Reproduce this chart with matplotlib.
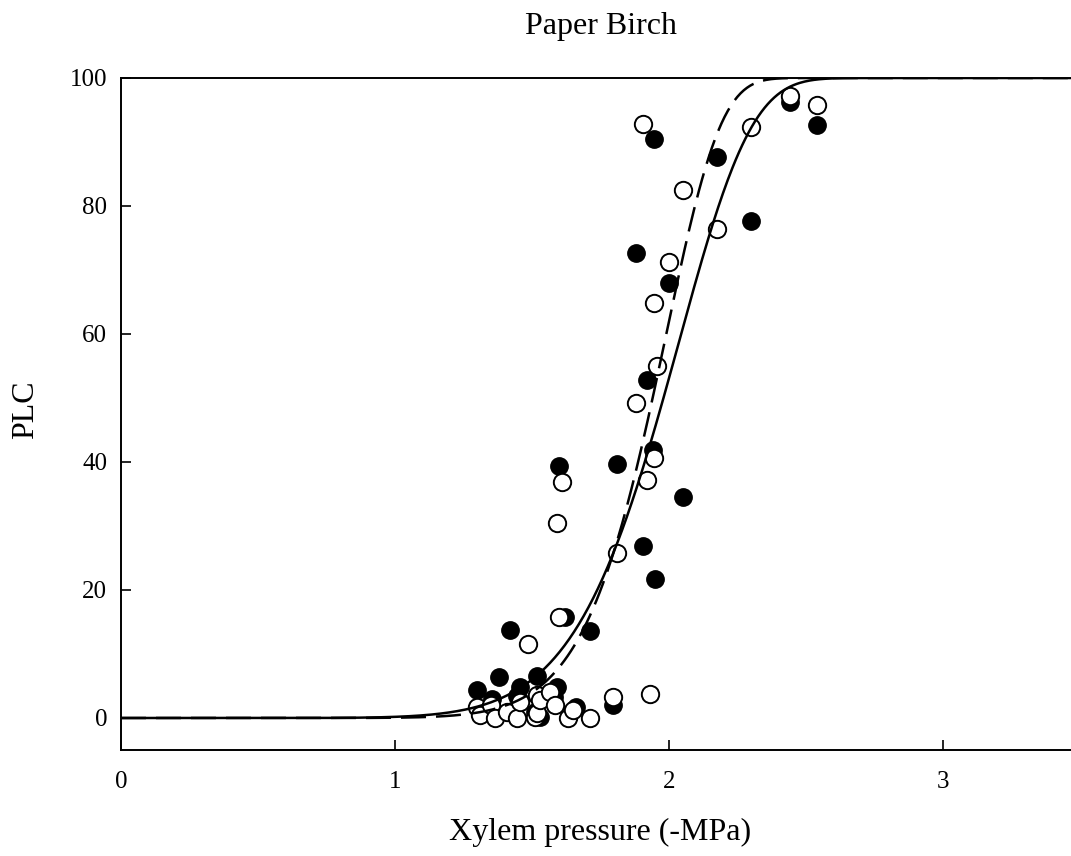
import numpy as np
import matplotlib
matplotlib.use("Agg")
import matplotlib.pyplot as plt

plt.rcParams['font.family'] = ['Liberation Serif', 'DejaVu Serif']

# filled circles
closed_x = [1.30, 1.355, 1.38, 1.42, 1.445, 1.455, 1.52, 1.51, 1.53, 1.58, 1.59,
            1.60, 1.62, 1.66, 1.71, 1.795, 1.81, 1.88, 1.905, 1.92, 1.94, 1.945,
            1.95, 2.00, 2.05, 2.175, 2.30, 2.44, 2.54]
closed_y = [4.4, 3.0, 6.4, 13.8, 3.5, 4.8, 6.5, 1.0, 0.2, 3.3, 4.8,
            39.4, 15.8, 1.7, 13.6, 2.0, 39.7, 72.7, 26.9, 52.8, 41.9, 90.5,
            21.7, 68.0, 34.5, 87.7, 77.7, 96.3, 92.7]

# open circles
open_x = [1.30, 1.31, 1.35, 1.365, 1.41, 1.445, 1.455, 1.485, 1.51, 1.52, 1.52,
          1.53, 1.565, 1.585, 1.59, 1.60, 1.61, 1.63, 1.65, 1.71, 1.795, 1.81,
          1.88, 1.905, 1.92, 1.93, 1.945, 1.945, 1.956, 2.00, 2.05, 2.175,
          2.30, 2.44, 2.54]
open_y = [1.7, 0.5, 2.0, 0.0, 0.9, 0.0, 2.5, 11.5, 0.2, 3.6, 0.8,
          2.8, 4.1, 2.0, 30.5, 15.8, 36.9, 0.0, 1.2, 0.0, 3.3, 25.8,
          49.2, 92.8, 37.2, 3.8, 40.6, 64.9, 55.0, 71.3, 82.5, 76.4,
          92.3, 97.2, 95.8]

# fitted Weibull curves: PLC = 100 * (1 - exp(-(P/b)^c))
solid_b, solid_c = 2.065, 8.7
dashed_b, dashed_c = 2.006, 11.0

xticks = [0, 1, 2, 3]
yticks = [0, 20, 40, 60, 80, 100]

fig = plt.figure(figsize=(10.71, 8.56), dpi=100)
ax = fig.add_axes([121 / 1071, 1 - 750 / 856, (1080 - 121) / 1071, (750 - 78) / 856])

ax.plot(closed_x, closed_y, 'o', ms=12.5, mfc='black', mec='black', mew=1.0, zorder=2)
ax.plot(open_x, open_y, 'o', ms=12.5, mfc='white', mec='black', mew=1.4, zorder=3)

p = np.linspace(0, 3.5, 600)
ax.plot(p, 100 * (1 - np.exp(-(p / solid_b) ** solid_c)), color='black', lw=1.8, zorder=4)
dl, = ax.plot(p, 100 * (1 - np.exp(-(p / dashed_b) ** dashed_c)), color='black', lw=1.8, zorder=4)
dl.set_dashes([10, 4])

ax.set_xlim(0, 3.5)
ax.set_ylim(-5, 100)
ax.set_xticks(xticks)
ax.set_yticks(yticks)
ax.tick_params(direction='in', length=7.5, width=1.2, labelsize=18)
ax.tick_params(axis='y', pad=10)
ax.tick_params(axis='x', pad=15)
ax.spines['right'].set_visible(False)
for s in ['left', 'bottom', 'top']:
    ax.spines[s].set_linewidth(1.4)

fig.text(601 / 1071, 1 - 34 / 856, 'Paper Birch', ha='center', va='baseline', fontsize=23)
fig.text(600 / 1071, 1 - 840 / 856, 'Xylem pressure (-MPa)', ha='center', va='baseline', fontsize=23)
fig.text(26 / 1071, 1 - 410 / 856, 'PLC', ha='center', va='center', rotation=90, fontsize=23)

fig.savefig('out.png', dpi=100)
